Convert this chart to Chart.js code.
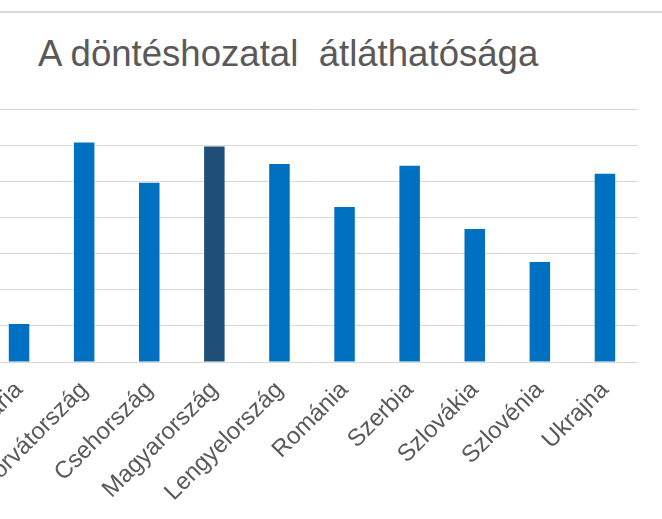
<!DOCTYPE html>
<html>
<head>
<meta charset="utf-8">
<script src="https://cdn.jsdelivr.net/npm/chart.js@4.4.1/dist/chart.umd.min.js"></script>
<style>
  html, body { margin: 0; padding: 0; background: #fff; }
  #wrap { position: relative; width: 662px; height: 519px; overflow: hidden; background: #fff; }
  #frame { position: absolute; left: 0; top: 11px; width: 662px; height: 0; border-top: 2px solid #d9d9d9; }
  #title { position: absolute; left: 38px; top: 36px; font: 36.6px "Liberation Sans", Arial, sans-serif; line-height: 36px; color: #595959; white-space: pre; }
  #holder { position: absolute; left: -60px; top: 0; width: 722px; height: 519px; }
</style>
</head>
<body>
<div id="wrap">
  <div id="frame"></div>
  <div id="title">A döntéshozatal  átláthatósága</div>
  <div id="holder"><canvas id="grafico" width="722" height="519"></canvas></div>
</div>
<script>
const orszagok = ['Bulgária', 'Horvátország', 'Csehország', 'Magyarország', 'Lengyelország',
                  'Románia', 'Szerbia', 'Szlovákia', 'Szlovénia', 'Ukrajna'];
const ertekek = [1.05, 6.07, 4.96, 5.96, 5.48, 4.29, 5.43, 3.68, 2.77, 5.21];
const kiemelt = 'Magyarország';
const yMin = 0;
const yMax = 7;
const yLepes = 1;

const szinek = orszagok.map(o => o === kiemelt ? '#1F4E79' : '#0070C0');

const grafico = new Chart(document.getElementById('grafico'), {
  type: 'bar',
  data: {
    labels: orszagok,
    datasets: [{
      label: 'A döntéshozatal átláthatósága',
      data: ertekek,
      backgroundColor: szinek,
      borderWidth: 0,
      categoryPercentage: 1,
      barPercentage: 0.315
    }]
  },
  options: {
    responsive: false,
    animation: false,
    devicePixelRatio: 1,
    layout: { padding: { left: 46.5, right: 24.5, top: 109, bottom: 0 } },
    plugins: {
      legend: { display: false },
      title: { display: false },
      tooltip: { enabled: false }
    },
    scales: {
      x: {
        grid: { display: false },
        border: { display: false },
        ticks: {
          color: '#595959',
          font: { family: '"Liberation Sans", Arial, sans-serif', size: 24 },
          minRotation: 45,
          maxRotation: 45,
          autoSkip: false,
          padding: 6
        },
        afterFit: (scale) => { scale.height = 157; }
      },
      y: {
        min: yMin,
        max: yMax,
        ticks: { display: false, stepSize: yLepes },
        grid: { color: '#d9d9d9', lineWidth: 1, drawTicks: false },
        border: { display: false },
        afterFit: (scale) => { scale.width = 0; }
      }
    }
  }
});
</script>
</body>
</html>
